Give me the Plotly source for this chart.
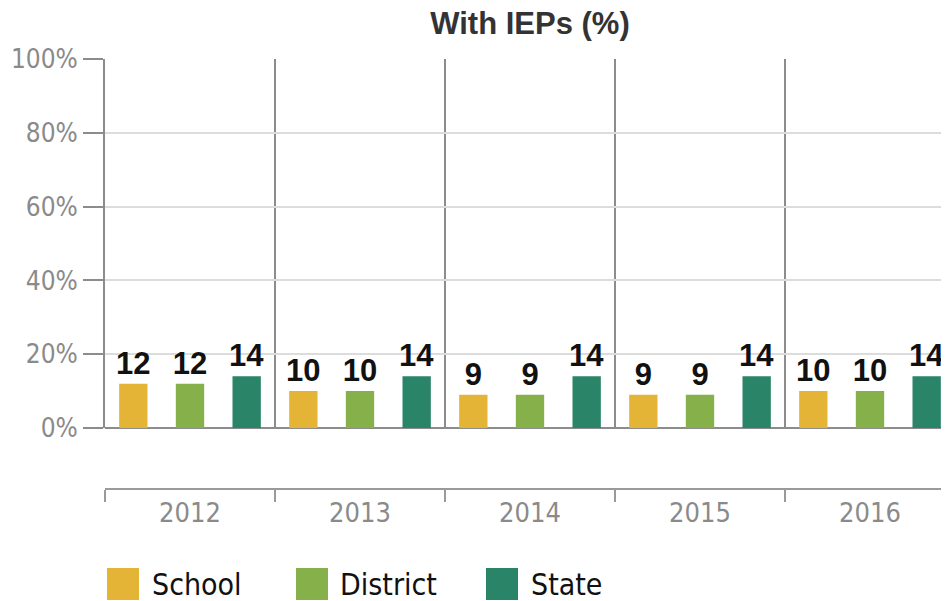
import plotly.graph_objects as go

years = ["2012", "2013", "2014", "2015", "2016"]
series_names = ["School", "District", "State"]
school = [12, 10, 9, 9, 10]
district = [12, 10, 9, 9, 10]
state = [14, 14, 14, 14, 14]
colors = ["#E4B437", "#86B04A", "#2A8468"]
y_ticks = [0, 20, 40, 60, 80, 100]
y_tick_labels = ["0%", "20%", "40%", "60%", "80%", "100%"]

OFF = 8  # default page body margin
W, H = 949, 601 - OFF
ML, MT, MB, MR = 105 - OFF, 59 - OFF, 0, 0
PW, PH = W - ML - MR, H - MT - MB


def px_x(px):
    return (px - OFF - ML) / PW


def px_y(py):
    return (H - MB - (py - OFF)) / PH


fig = go.Figure()
for name, vals, col in zip(series_names, [school, district, state], colors):
    fig.add_trace(go.Bar(
        x=years, y=vals, name=name, marker=dict(color=col, line=dict(width=0)),
        texttemplate="%{y}", textposition="outside", cliponaxis=False,
        constraintext="none",
        textfont=dict(family="Liberation Sans, Arial", size=31, color="#111", weight="bold"),
        showlegend=False,
    ))

# custom legend
leg_sw_x = [107, 296, 486]
leg_txt_x = [150, 338, 529]
shapes = []
annotations = []
for i, (name, col) in enumerate(zip(series_names, colors)):
    shapes.append(dict(type="rect", xref="paper", yref="paper",
                       x0=px_x(leg_sw_x[i]), x1=px_x(leg_sw_x[i] + 32),
                       y0=px_y(600), y1=px_y(568), fillcolor=col, line=dict(width=0)))
    annotations.append(dict(text=name, xref="paper", yref="paper",
                            x=px_x(leg_txt_x[i]), y=px_y(584), xanchor="left", yanchor="middle",
                            showarrow=False,
                            font=dict(family="DejaVu Sans Condensed, DejaVu Sans", size=30, color="#111")))

fig.update_layout(
    width=W, height=H,
    margin=dict(l=ML, r=MR, t=MT, b=MB, autoexpand=False),
    paper_bgcolor="white", plot_bgcolor="white",
    barmode="group", bargap=0, bargroupgap=0.5,
    title=dict(text="With IEPs (%)", x=px_x(530), xref="paper", xanchor="center",
               y=1 - (23 - OFF) / H, yref="container", yanchor="middle",
               font=dict(family="Liberation Sans, Arial", size=31, color="#333", weight="bold")),
    xaxis=dict(
        type="category", range=[-0.5, -0.5 + PW / 170.0],
        anchor="free", position=px_y(489),
        tickson="boundaries", showgrid=True, gridcolor="#8c8c8c", gridwidth=2,
        showline=True, linecolor="#9a9a9a", linewidth=2,
        ticks="outside", ticklen=12, tickwidth=2, tickcolor="#9a9a9a",
        tickfont=dict(family="DejaVu Sans Condensed, DejaVu Sans", size=27, color="#8a8a8a"),
        automargin=False,
    ),
    yaxis=dict(
        range=[0, 100], domain=[px_y(428), 1],
        tickvals=y_ticks, ticktext=y_tick_labels,
        showgrid=True, gridcolor="#dcdcdc", gridwidth=2,
        zeroline=True, zerolinecolor="#8c8c8c", zerolinewidth=2,
        showline=True, linecolor="#8c8c8c", linewidth=2,
        ticks="outside", ticklen=20, tickwidth=2, tickcolor="#8c8c8c",
        tickfont=dict(family="DejaVu Sans Condensed, DejaVu Sans", size=26, color="#8a8a8a"),
        automargin=False,
    ),
    shapes=shapes, annotations=annotations,
)

fig.write_html("out.html")
